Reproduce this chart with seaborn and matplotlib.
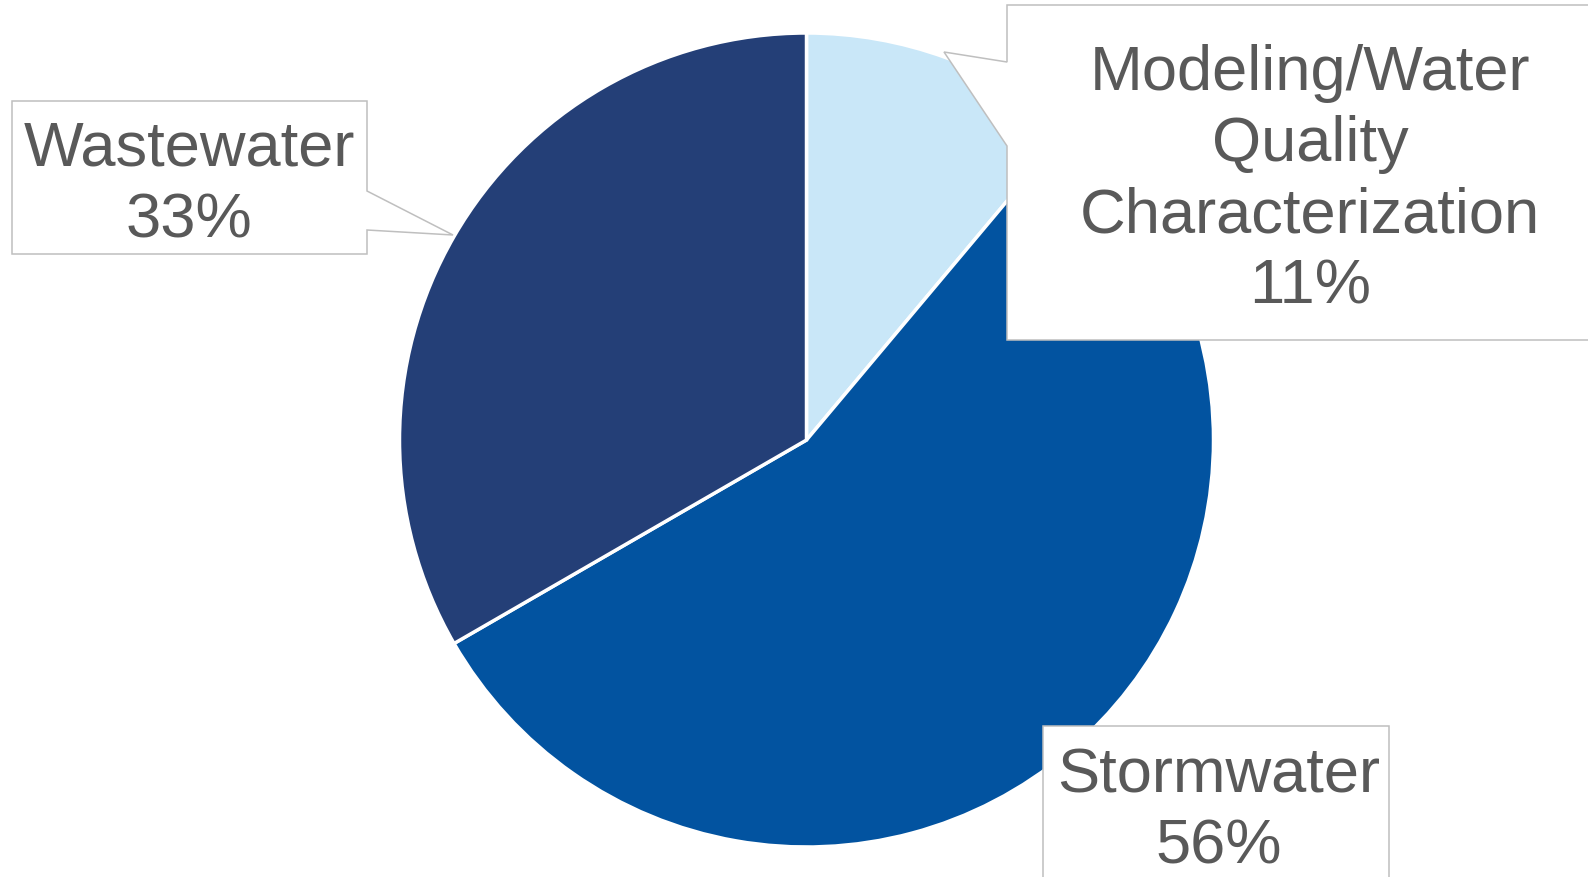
import matplotlib
matplotlib.use("Agg")
import matplotlib.pyplot as plt
from matplotlib.patches import Polygon
import seaborn as sns

# ---- data ----
categories = ["Modeling/Water\nQuality\nCharacterization", "Stormwater", "Wastewater"]
counts = [1, 5, 3]
colors = ["#C9E7F8", "#0253A0", "#243F77"]

W, H = 1588, 878
sns.set_theme(style="white")
plt.rcParams['font.family'] = ['Liberation Sans', 'DejaVu Sans']

fig = plt.figure(figsize=(W / 100, H / 100), dpi=100)
ax = fig.add_axes([0, 0, 1, 1])

def fy(y):
    return H - y

cx, cy, r = 806.5, 441, 407
ax.pie(counts, colors=colors, startangle=90, counterclock=False,
       center=(cx, fy(cy)), radius=r,
       wedgeprops=dict(edgecolor="white", linewidth=2.5))
ax.set_xlim(0, W)
ax.set_ylim(0, H)
ax.set_aspect("auto")
ax.axis("off")

edge = "#BFBFBF"
txtc = "#595959"
fs = 45.5
ls = 1.27

# callout shapes (pixel coords, top-down)
shapes = {
    "Wastewater": [(12, 102), (367, 102), (367, 192), (453, 236), (367, 231),
                   (367, 255), (12, 255)],
    "Modeling": [(1007, 6), (1600, 6), (1600, 341), (1007, 341), (1007, 147),
                 (944, 53), (1007, 63)],
    "Stormwater": [(1043, 727), (1389, 727), (1389, 900), (1043, 900)],
}
for pts in shapes.values():
    poly = Polygon([(x, fy(y)) for x, y in pts], closed=True, facecolor="white",
                   edgecolor=edge, linewidth=1.1, zorder=5)
    ax.add_patch(poly)

total = sum(counts)
label_pos = [(1310, 304), (1219, 864), (189, 237)]
for cat, val, (tx, ty) in zip(categories, counts, label_pos):
    pct = round(100 * val / total)
    ax.text(tx, fy(ty), f"{cat}\n{pct}%", ha="center", va="baseline",
            multialignment="center", fontsize=fs, color=txtc,
            linespacing=ls, zorder=6)

fig.savefig("out.png", dpi=100)
